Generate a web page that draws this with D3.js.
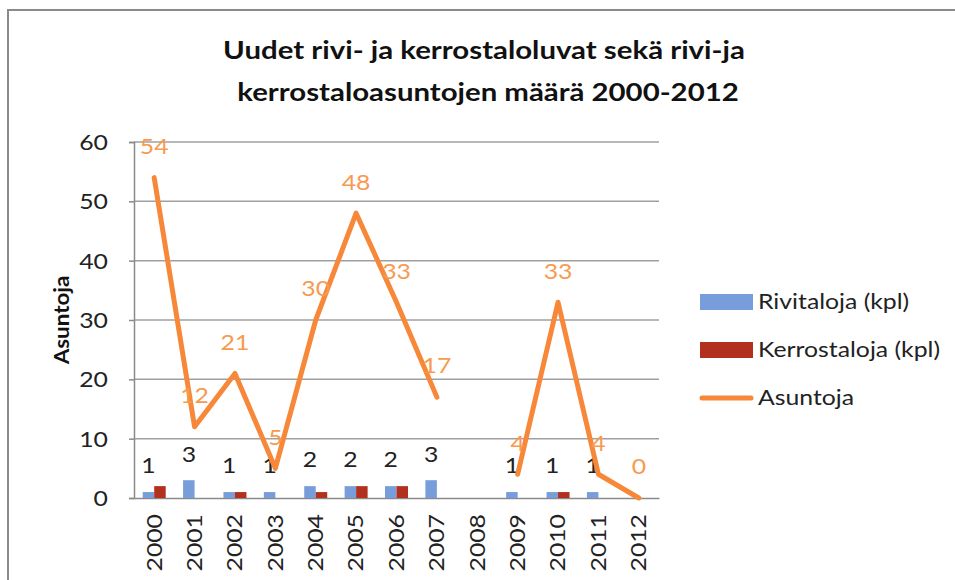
<!DOCTYPE html>
<html><head><meta charset="utf-8">
<script src="https://cdn.jsdelivr.net/npm/d3@7"></script>
<style>body{margin:0;background:#fff}svg{display:block;font-family:Lato,"Open Sans",sans-serif}</style>
</head><body><svg id="c" width="955" height="580"></svg>
<script>
const years = ["2000","2001","2002","2003","2004","2005","2006","2007","2008","2009","2010","2011","2012"];
const rivitaloja = [1,3,1,1,2,2,2,3,null,1,1,1,null];
const kerrostaloja = [2,0,1,0,1,2,2,0,null,0,1,0,null];
const asuntoja = [54,12,21,5,30,48,33,17,null,4,33,4,0];
const yTicks = [0,10,20,30,40,50,60];
const seriesNames = ["Rivitaloja (kpl)","Kerrostaloja (kpl)","Asuntoja"];
const colors = {riv:"#779edb", ker:"#b2301e", line:"#f7883a", lineLabel:"#f79a50"};
const SX = 1.18; // horizontal glyph stretch

const svg = d3.select("#c");
svg.append("rect").attr("x",8).attr("y",10).attr("width",1000).attr("height",600)
  .attr("fill","none").attr("stroke","#8a8a8a").attr("stroke-width",2);

const L=134,R=659,T=142,B=498;
const x = d3.scaleBand().domain(years).range([L,R]);
const y = d3.scaleLinear().domain([0,60]).range([B,T]);
const xs = d3.scaleBand().domain(["riv","ker"]).range([-11.5,11.5]);
const cx = yr => x(yr)+x.bandwidth()/2;

function place(sel, px, py, rot, sx){
  sel.attr("x",0).attr("y",0)
     .attr("transform",(d,i)=>`translate(${typeof px==="function"?px(d,i):px},${typeof py==="function"?py(d,i):py}) rotate(${rot||0}) scale(${sx||SX},1)`);
}

svg.append("g").selectAll("line").data(yTicks.filter(d=>d>0)).join("line")
  .attr("x1",L).attr("x2",R).attr("y1",d=>y(d)).attr("y2",d=>y(d))
  .attr("stroke","#a0a0a0").attr("stroke-width",1.5);

const ya = svg.append("g").attr("transform",`translate(${L},0)`)
  .call(d3.axisLeft(y).tickValues(yTicks).tickSize(5).tickPadding(22));
ya.select(".domain").attr("stroke","#8a8a8a").attr("stroke-width",1.5);
ya.selectAll(".tick line").attr("stroke","#8a8a8a").attr("stroke-width",1.5);
ya.selectAll(".tick text").attr("font-size",21).attr("fill","#222").style("font-family","Lato")
  .attr("dy","0.35em").call(place,-26,0,0);

const xa = svg.append("g").attr("transform",`translate(0,${B})`)
  .call(d3.axisBottom(x).tickSize(0).tickPadding(0));
xa.select(".domain").attr("stroke","#8a8a8a").attr("stroke-width",1.5);
xa.selectAll(".tick text").attr("font-size",21).attr("fill","#222").style("font-family","Lato")
  .attr("text-anchor","end").attr("dy","0.35em").call(place,0,16,-90);

const bars = svg.append("g");
[["riv",rivitaloja],["ker",kerrostaloja]].forEach(([k,arr])=>{
  bars.selectAll(null).data(years.map((yr,i)=>({yr,v:arr[i]})).filter(d=>d.v)).join("rect")
    .attr("x",d=>cx(d.yr)+xs(k)).attr("width",xs.bandwidth())
    .attr("y",d=>y(d.v)).attr("height",d=>B-y(d.v)).attr("fill",colors[k]);
});
svg.append("g").selectAll("text").data(years.map((yr,i)=>({yr,v:rivitaloja[i]})).filter(d=>d.v!=null)).join("text")
  .attr("dy","0.35em").attr("text-anchor","middle")
  .attr("font-size",21).attr("fill","#222").text(d=>d.v)
  .call(place,d=>cx(d.yr)+xs("riv")+xs.bandwidth()/2,d=>y(d.v)-26,0);

const pts = years.map((yr,i)=>({yr,v:asuntoja[i]}));
const line = d3.line().defined(d=>d.v!=null).x(d=>cx(d.yr)).y(d=>y(d.v));
svg.append("path").datum(pts).attr("d",line).attr("fill","none")
  .attr("stroke",colors.line).attr("stroke-width",5).attr("stroke-linejoin","round").attr("stroke-linecap","round");
svg.append("g").selectAll("text").data(pts.filter(d=>d.v!=null)).join("text")
  .attr("dy","0.35em").attr("text-anchor","middle").attr("font-size",21).attr("fill",colors.lineLabel).text(d=>d.v)
  .call(place,d=>cx(d.yr),d=>y(d.v)-31,0);

svg.append("text").attr("text-anchor","middle").attr("dy","0.35em").attr("font-size",20)
  .attr("font-weight","bold").attr("fill","#111").text("Asuntoja").call(place,62,320,-90,1.12);

svg.append("text").attr("text-anchor","middle").attr("font-size",25).attr("font-weight","bold").attr("fill","#111")
  .text("Uudet rivi- ja kerrostaloluvat sekä rivi-ja").call(place,484,59,0,1.175);
svg.append("text").attr("text-anchor","middle").attr("font-size",25).attr("font-weight","bold").attr("fill","#111")
  .text("kerrostaloasuntojen määrä 2000-2012").call(place,488,101,0,1.175);

const lg = svg.append("g");
const ly = [302,350,398];
lg.append("rect").attr("x",700).attr("y",ly[0]-8).attr("width",53).attr("height",16).attr("fill",colors.riv);
lg.append("rect").attr("x",700).attr("y",ly[1]-8).attr("width",53).attr("height",16).attr("fill",colors.ker);
lg.append("line").attr("x1",702).attr("x2",751).attr("y1",ly[2]).attr("y2",ly[2])
  .attr("stroke",colors.line).attr("stroke-width",5).attr("stroke-linecap","round");
lg.selectAll("text").data(seriesNames).join("text").attr("dy","0.35em")
  .attr("font-size",21).attr("fill","#222").text(d=>d)
  .call(place,758,(d,i)=>ly[i],0,1.18);
</script></body></html>
